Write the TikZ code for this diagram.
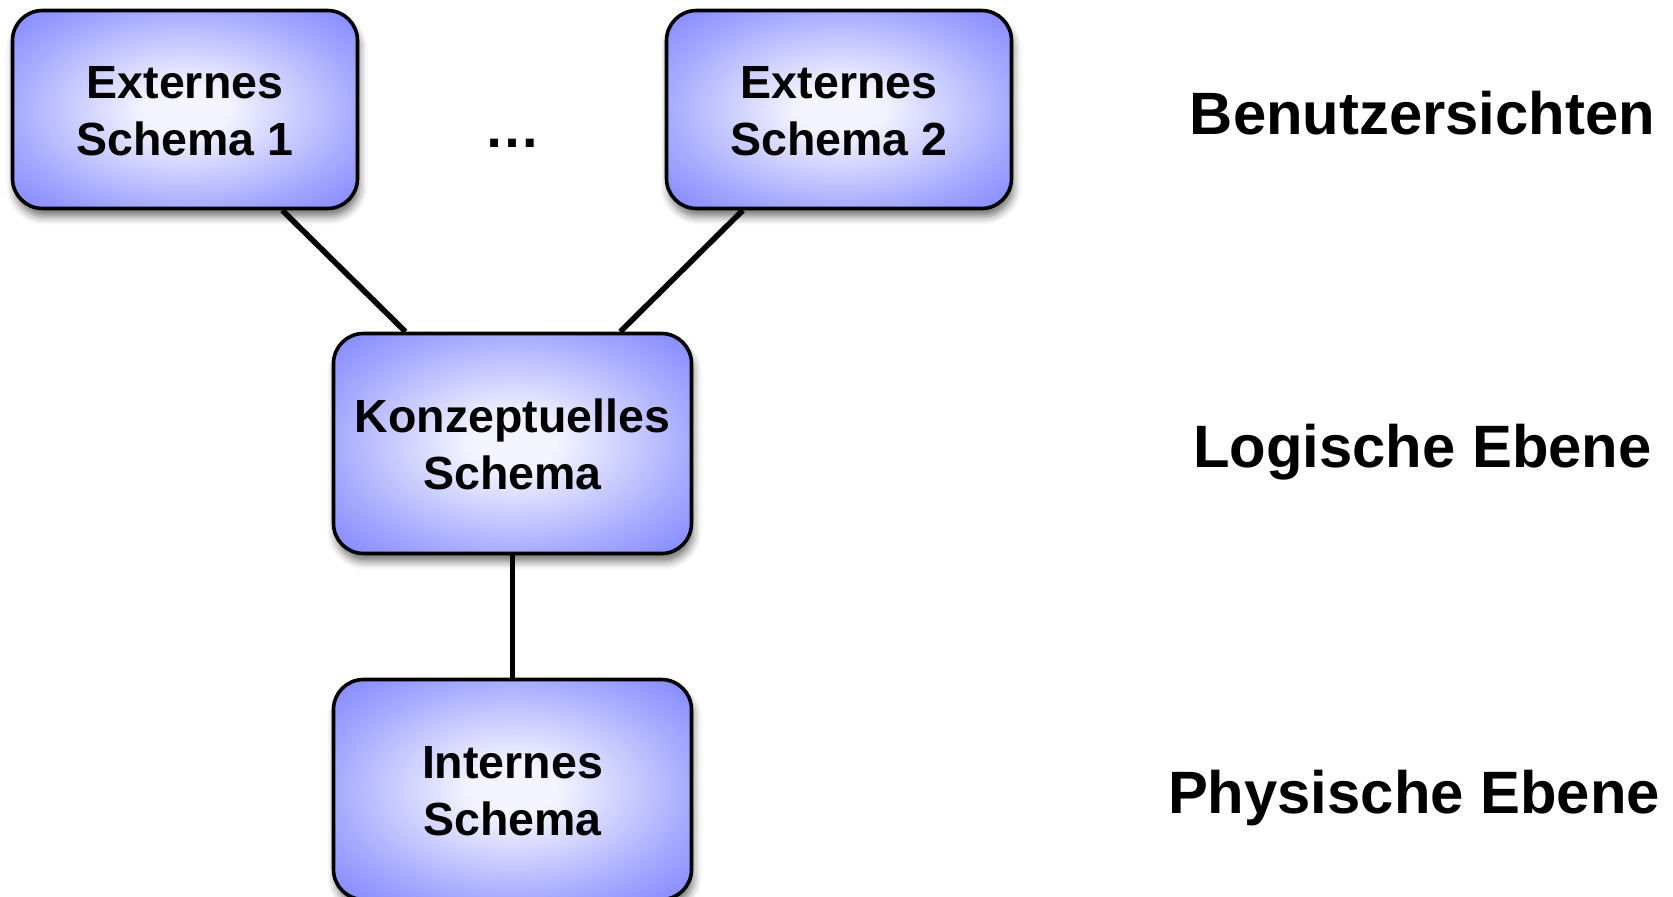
\documentclass[tikz,border=0pt]{standalone}
\usepackage{fontspec}
\setmainfont{Liberation Sans}
\usetikzlibrary{shadows.blur,calc}
\definecolor{boxedge}{RGB}{126,132,255}
\definecolor{boxmid}{RGB}{166,170,255}
\definecolor{boxcenter}{RGB}{244,244,255}
\pgfdeclareradialshading{boxshade}{\pgfpoint{0bp}{0bp}}{color(0bp)=(boxcenter); color(6bp)=(boxcenter); color(25bp)=(boxmid); color(36bp)=(boxedge); color(50bp)=(boxedge)}
\newcommand{\boxtext}[2]{\raisebox{-3.2pt}[\height][\depth]{\begin{tabular}{@{}c@{}}#1\\#2\end{tabular}}}
\tikzset{
  schemabox/.style={draw=black, line width=1.8pt, rounded corners=15pt,
    shade, shading=boxshade, inner sep=0pt,
    font=\fontsize{23.25}{28.25}\selectfont\bfseries,
    blur shadow={shadow xshift=1pt, shadow yshift=-4pt, shadow blur radius=4pt, shadow opacity=55}},
  smallbox/.style={schemabox, minimum width=172.5pt, minimum height=99pt},
  bigbox/.style={schemabox, minimum width=179pt, minimum height=110pt},
  levellabel/.style={anchor=base, font=\fontsize{29.9}{34}\selectfont\bfseries, inner sep=0pt},
  conn/.style={draw=black, line width=2.8pt}
}
\begin{document}
\begin{tikzpicture}[x=0.5pt,y=-0.5pt]
\useasboundingbox (0,0) rectangle (1673,897);
\node[smallbox] (e1) at (185,109.5) {\boxtext{Externes}{Schema 1}};
\node[smallbox] (e2) at (839,109.5) {\boxtext{Externes}{Schema 2}};
\node[bigbox] (k) at (512.5,443.5) {\boxtext{Konzeptuelles}{Schema}};
\node[bigbox] (i) at (512.5,789.5) {\boxtext{Internes}{Schema}};
\node[anchor=base, inner sep=0pt, font=\fontsize{28}{32}\selectfont\bfseries] (dots) at (512,148) {…};
\coordinate (a1) at ($(e1.south west)!0.779!(e1.south east)$);
\coordinate (b1) at ($(k.north west)!0.204!(k.north east)$);
\coordinate (a2) at ($(e2.south west)!0.224!(e2.south east)$);
\coordinate (b2) at ($(k.north west)!0.798!(k.north east)$);
\draw[conn] (a1) -- (b1);
\draw[conn] (a2) -- (b2);
\draw[conn] (k.south) -- (i.north);
\node[levellabel] (l1) at (1422.5,134.4) {Benutzersichten};
\node[levellabel] (l2) at (1422.5,467) {Logische Ebene};
\node[levellabel] (l3) at (1414,813) {Physische Ebene};
\end{tikzpicture}
\end{document}
